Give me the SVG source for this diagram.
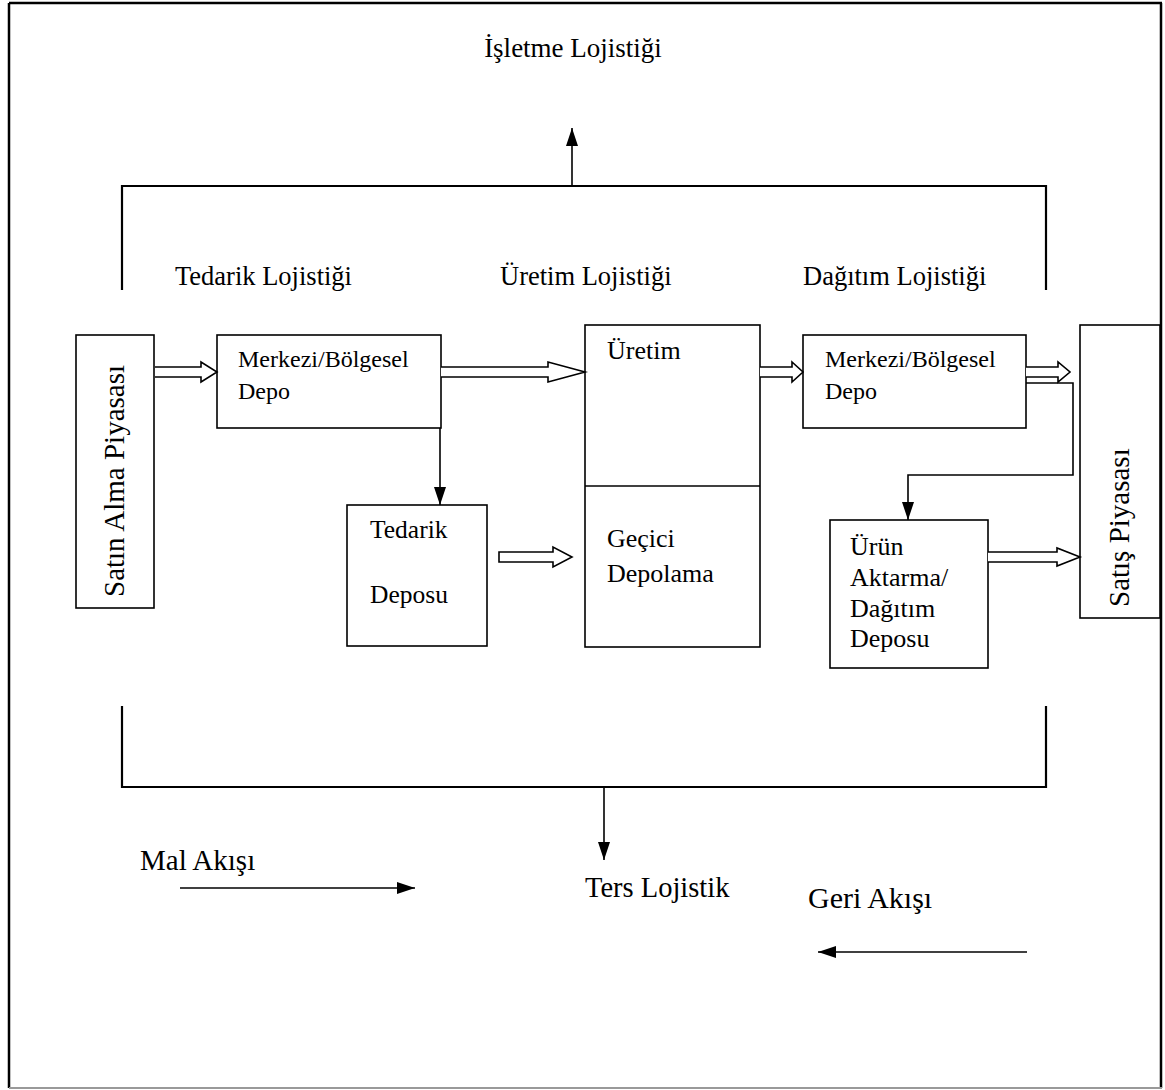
<svg xmlns="http://www.w3.org/2000/svg" width="1165" height="1090" viewBox="0 0 1165 1090">
  <style>
    .t { font-family: "Liberation Serif", "Times New Roman", serif; fill: #000; }
    .box { fill: #fff; stroke: #000; stroke-width: 1.6; }
    .ln { fill: none; stroke: #000; stroke-width: 1.6; }
    .br { fill: none; stroke: #000; stroke-width: 2.2; }
    .dbl { fill: #fff; stroke: #000; stroke-width: 1.6; stroke-linejoin: miter; }
  </style>
  <defs>
    <marker id="ah" viewBox="0 0 18 12" refX="18" refY="6" markerWidth="18" markerHeight="12" orient="auto" markerUnits="userSpaceOnUse">
      <path d="M0,0 L18,6 L0,12 Z" fill="#000"/>
    </marker>
  </defs>

  <rect x="0" y="0" width="1165" height="1090" fill="#fff"/>

  <!-- page frame -->
  <g id="frame">
    <line x1="9" y1="3" x2="1162" y2="3" stroke="#000" stroke-width="2.5"/>
    <line x1="9" y1="3" x2="9" y2="1088" stroke="#000" stroke-width="2.5"/>
    <line x1="1161" y1="3" x2="1161" y2="1088" stroke="#000" stroke-width="2.5"/>
    <line x1="9" y1="1088" x2="1162" y2="1088" stroke="#999" stroke-width="2"/>
  </g>

  <!-- headings -->
  <g id="title">
    <text class="t" x="573" y="57" font-size="27" text-anchor="middle">İşletme Lojistiği</text>
  </g>
  <g id="labels">
    <text class="t" x="175" y="285" font-size="26.5">Tedarik Lojistiği</text>
    <text class="t" x="500" y="285" font-size="26.5">Üretim Lojistiği</text>
    <text class="t" x="803" y="285" font-size="26.5">Dağıtım Lojistiği</text>
  </g>

  <!-- nodes -->
  <g id="satin-alma">
    <rect class="box" x="76" y="335" width="78" height="273"/>
    <text class="t" transform="translate(124,597) rotate(-90)" font-size="29">Satın Alma Piyasası</text>
  </g>

  <g id="depo-1">
    <rect class="box" x="217" y="335" width="224" height="93"/>
    <text class="t" x="238" y="367" font-size="24">Merkezi/Bölgesel</text>
    <text class="t" x="238" y="399" font-size="24">Depo</text>
  </g>

  <g id="tedarik-deposu">
    <rect class="box" x="347" y="505" width="140" height="141"/>
    <text class="t" x="370" y="538" font-size="25.5">Tedarik</text>
    <text class="t" x="370" y="603" font-size="25.5">Deposu</text>
  </g>

  <g id="uretim">
    <rect class="box" x="585" y="325" width="175" height="322"/>
    <line class="ln" x1="585" y1="486" x2="760" y2="486"/>
    <text class="t" x="607" y="359" font-size="26">Üretim</text>
    <text class="t" x="607" y="547" font-size="26">Geçici</text>
    <text class="t" x="607" y="582" font-size="26">Depolama</text>
  </g>

  <g id="depo-2">
    <rect class="box" x="803" y="335" width="223" height="93"/>
    <text class="t" x="825" y="367" font-size="24">Merkezi/Bölgesel</text>
    <text class="t" x="825" y="399" font-size="24">Depo</text>
  </g>

  <g id="urun-aktarma">
    <rect class="box" x="830" y="520" width="158" height="148"/>
    <text class="t" x="850" y="555" font-size="26">Ürün</text>
    <text class="t" x="850" y="586" font-size="26">Aktarma/</text>
    <text class="t" x="850" y="617" font-size="26">Dağıtım</text>
    <text class="t" x="850" y="647" font-size="26">Deposu</text>
  </g>

  <g id="satis">
    <rect class="box" x="1080" y="325" width="80" height="293"/>
    <text class="t" transform="translate(1129,607) rotate(-90)" font-size="29">Satış Piyasası</text>
  </g>

  <g id="ters-lojistik">
    <text class="t" x="585" y="897" font-size="28.5">Ters Lojistik</text>
  </g>
  <g id="legend">
    <text class="t" x="140" y="870" font-size="29">Mal Akışı</text>
    <text class="t" x="808" y="908" font-size="30">Geri Akışı</text>
  </g>

  <!-- connectors -->
  <g id="connectors">
    <!-- brackets -->
    <path class="br" d="M122,290 V186 H1046 V290"/>
    <line class="ln" x1="572" y1="186" x2="572" y2="128" marker-end="url(#ah)"/>
    <path class="br" d="M122,706 V787 H1046 V706"/>
    <line class="ln" x1="604" y1="787" x2="604" y2="860" marker-end="url(#ah)"/>

    <!-- hollow double-line flow arrows -->
    <path class="dbl" d="M155,367 H201 V362 L217,372 L201,382 V377 H155"/>
    <path class="dbl" d="M441,367 H548 V362 L585,372 L548,382 V377 H441"/>
    <path class="dbl" d="M760,367 H792 V362 L803,372 L792,382 V377 H760"/>
    <path class="dbl" d="M1026,367 H1058 V362 L1070,372 L1058,382 V377 H1026"/>
    <path class="dbl" d="M499,552 H553 V547 L572,557 L553,567 V562 H499 Z"/>
    <path class="dbl" d="M988,552 H1057 V548 L1080,557 L1057,566 V562 H988"/>

    <!-- solid connectors -->
    <line class="ln" x1="440" y1="428" x2="440" y2="505" marker-end="url(#ah)"/>
    <path class="ln" d="M1026,383 H1073 V475 H908 V520" marker-end="url(#ah)"/>

    <!-- legend arrows -->
    <line class="ln" x1="180" y1="888" x2="415" y2="888" marker-end="url(#ah)"/>
    <line class="ln" x1="1027" y1="952" x2="818" y2="952" marker-end="url(#ah)"/>
  </g>
</svg>
